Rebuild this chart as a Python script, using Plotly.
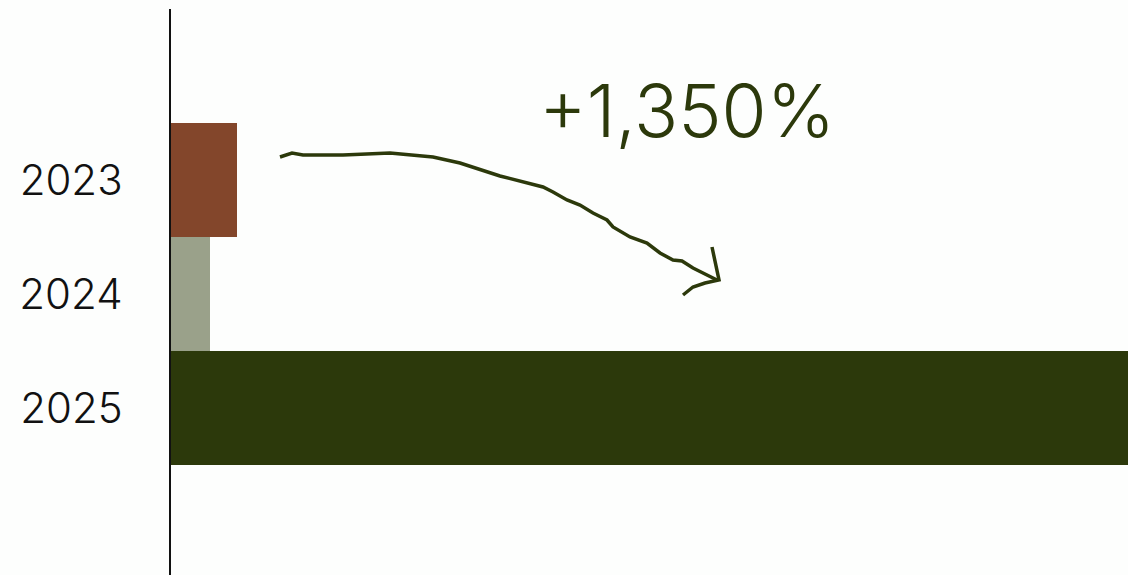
import plotly.graph_objects as go

# Yearly values (2023 is the baseline for the growth callout)
years = ["2023", "2024", "2025"]
values = [100, 59, 1450]
bar_colors = ["#83462b", "#9aa18a", "#2c390b"]
growth_label = "+1,350%"

W, H = 1128, 575
L, T = 171, 9
plot_w, plot_h = W - L, H - T

# Hand-drawn curved arrow, in page pixels
arrow_stroke = [(280, 157), (292, 153), (303, 155), (343, 155), (390, 153), (433, 157),
                (460, 163), (500, 176), (543, 187), (553, 192), (567, 200), (580, 205),
                (593, 213), (607, 220), (613, 227), (630, 237), (647, 243), (660, 253),
                (673, 260), (682, 261), (693, 268), (717, 280)]
arrow_head = [(712, 247), (719, 280), (705, 283), (693, 287), (683, 295)]


def to_paper(pt):
    px, py = pt
    return (px - L) / plot_w, (H - py) / plot_h


def path_of(points):
    pts = [to_paper(p) for p in points]
    return "M " + " L ".join(f"{x:.5f},{y:.5f}" for x, y in pts)


fig = go.Figure(go.Bar(
    x=values,
    y=list(range(len(years))),
    orientation="h",
    marker=dict(color=bar_colors, line=dict(width=0)),
    width=1.0,
    hoverinfo="skip",
))

line_color = "#2c390b"
fig.update_layout(
    width=W, height=H,
    margin=dict(l=L, r=0, t=T, b=0),
    paper_bgcolor="#fdfefd",
    plot_bgcolor="#fdfefd",
    showlegend=False,
    bargap=0,
    xaxis=dict(range=[0, values[2]], visible=False),
    yaxis=dict(
        range=[3.465, -1.5],
        tickvals=list(range(len(years))),
        ticktext=years,
        showline=True, linecolor="#111111", linewidth=2,
        showgrid=False, zeroline=False,
        ticks="", ticklabelstandoff=38,
        tickfont=dict(family="Inter", size=42, color="#111111", weight=300),
    ),
    shapes=[
        dict(type="path", xref="paper", yref="paper", path=path_of(arrow_stroke),
             line=dict(color=line_color, width=3.5)),
        dict(type="path", xref="paper", yref="paper", path=path_of(arrow_head),
             line=dict(color=line_color, width=3.5)),
    ],
    annotations=[
        dict(text=growth_label, xref="paper", yref="paper",
             x=to_paper((687, 0))[0], y=to_paper((0, 111))[1],
             xanchor="center", yanchor="middle", showarrow=False,
             font=dict(family="Inter", size=73, color=line_color, weight=300)),
    ],
)

fig.write_html("out.html")
